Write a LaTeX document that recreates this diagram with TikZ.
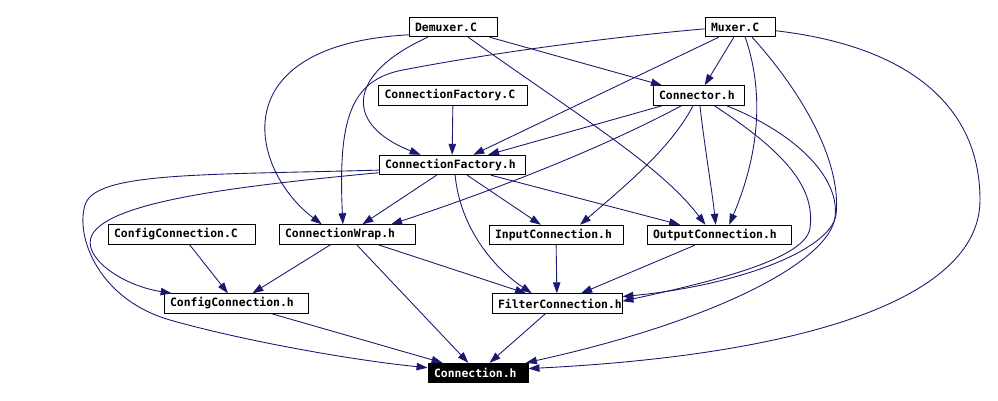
\documentclass[tikz,border=0pt]{standalone}
\usepackage{fontspec}
\newfontfamily\filefamily{DejaVu Sans Mono}
\usetikzlibrary{arrows.meta}
\definecolor{edgeblue}{HTML}{191970}
\tikzset{
  file/.style={draw=black, fill=white, line width=0.5pt, inner xsep=0.12cm, inner ysep=0pt,
    minimum height=0.39cm, text width=#1, align=left,
    font=\filefamily\bfseries\fontsize{6.5pt}{7pt}\selectfont},
  mainfile/.style={file=#1, fill=black, text=white},
  incl/.style={draw=edgeblue, line width=0.5pt, -{Triangle[length=0.22cm,width=0.15cm]}},
}
\begin{document}
\begin{tikzpicture}[x=0.02cm,y=-0.02cm]
\useasboundingbox (0,0) rectangle (998,401);
% source files (top row)
\node[file=1.52cm] (demux) at (453,27) {Demuxer.C};
\node[file=1.16cm] (mux) at (740,27) {Muxer.C};
\node[file=2.74cm] (cfc) at (453,95.5) {ConnectionFactory.C};
\node[file=1.58cm] (conn) at (698.5,95.5) {Connector.h};
\node[file=2.68cm] (cfh) at (452,165) {ConnectionFactory.h};
% middle row
\node[file=2.70cm] (ccc) at (181.5,234.5) {ConfigConnection.C};
\node[file=2.48cm] (cw) at (347,234.5) {ConnectionWrap.h};
\node[file=2.44cm] (ic) at (556,235) {InputConnection.h};
\node[file=2.64cm] (oc) at (719,235) {OutputConnection.h};
\node[file=2.64cm] (cch) at (236,303.5) {ConfigConnection.h};
\node[file=2.36cm] (fc) at (557,303.5) {FilterConnection.h};
% the included header
\node[mainfile=1.76cm] (c) at (478,373) {Connection.h};
% straight includes
\draw[incl] (demux) -- (conn);
\draw[incl] (mux) -- (conn);
\draw[incl] (mux) -- (cfh);
\draw[incl] (conn) -- (cfh);
\draw[incl] (cfc) -- (cfh);
\draw[incl] (cfh) -- (cw);
\draw[incl] (cfh) -- (ic);
\draw[incl] (cfh) -- (oc);
\draw[incl] (ccc) -- (cch);
\draw[incl] (cw) -- (cch);
\draw[incl] (cw) -- (fc);
\draw[incl] (cw) -- (c);
\draw[incl] (ic) -- (fc);
\draw[incl] (oc) -- (fc);
\draw[incl] (fc) -- (c);
\draw[incl] (cch) -- (c);
% curved includes from Demuxer.C
\draw[incl] (demux.202) .. controls (345,75) and (345,125) .. (cfh.162);
\draw[incl] (demux.190) .. controls (220,45) and (250,170) .. (cw.158);
\draw[incl] (demux.-34) .. controls (580,117) and (660,165) .. (oc.143);
% curved includes from Muxer.C
\draw[incl] (mux.183) .. controls (600,38) and (480,55) .. (403,70)
  .. controls (350,80) and (338,120) .. (cw.112);
\draw[incl] (mux.-63) .. controls (760,80) and (765,140) .. (oc.45);
\draw[incl] (mux.-40) .. controls (800,90) and (842,160) .. (836,215)
  .. controls (830,250) and (740,285) .. (fc.6);
\draw[incl] (mux.-6) .. controls (900,45) and (980,100) .. (980,200)
  .. controls (980,300) and (800,355) .. (c.5);
% curved includes from Connector.h
\draw[incl] (conn.211) .. controls (580,160) and (450,205) .. (cw.13);
\draw[incl] (conn.242) .. controls (670,150) and (620,190) .. (ic.23);
\draw[incl] (conn.-82) .. controls (705,150) and (712,190) .. (oc.108);
\draw[incl] (conn.-33) .. controls (790,155) and (815,190) .. (810,228)
  .. controls (806,258) and (720,280) .. (fc.2);
\draw[incl] (conn.-20) .. controls (800,135) and (840,180) .. (835,217)
  .. controls (830,260) and (720,320) .. (c.12);
% curved includes from ConnectionFactory.h
\draw[incl] (cfh.-73) .. controls (460,225) and (490,265) .. (fc.158);
\draw[incl] (cfh.184) .. controls (200,175) and (95,172) .. (85,205)
  .. controls (75,238) and (100,300) .. (170,320)
  .. controls (240,340) and (350,360) .. (c.174);
\draw[incl] (cfh.186) .. controls (250,185) and (110,200) .. (92,235)
  .. controls (81,256) and (120,285) .. (cch.171);
\end{tikzpicture}
\end{document}
